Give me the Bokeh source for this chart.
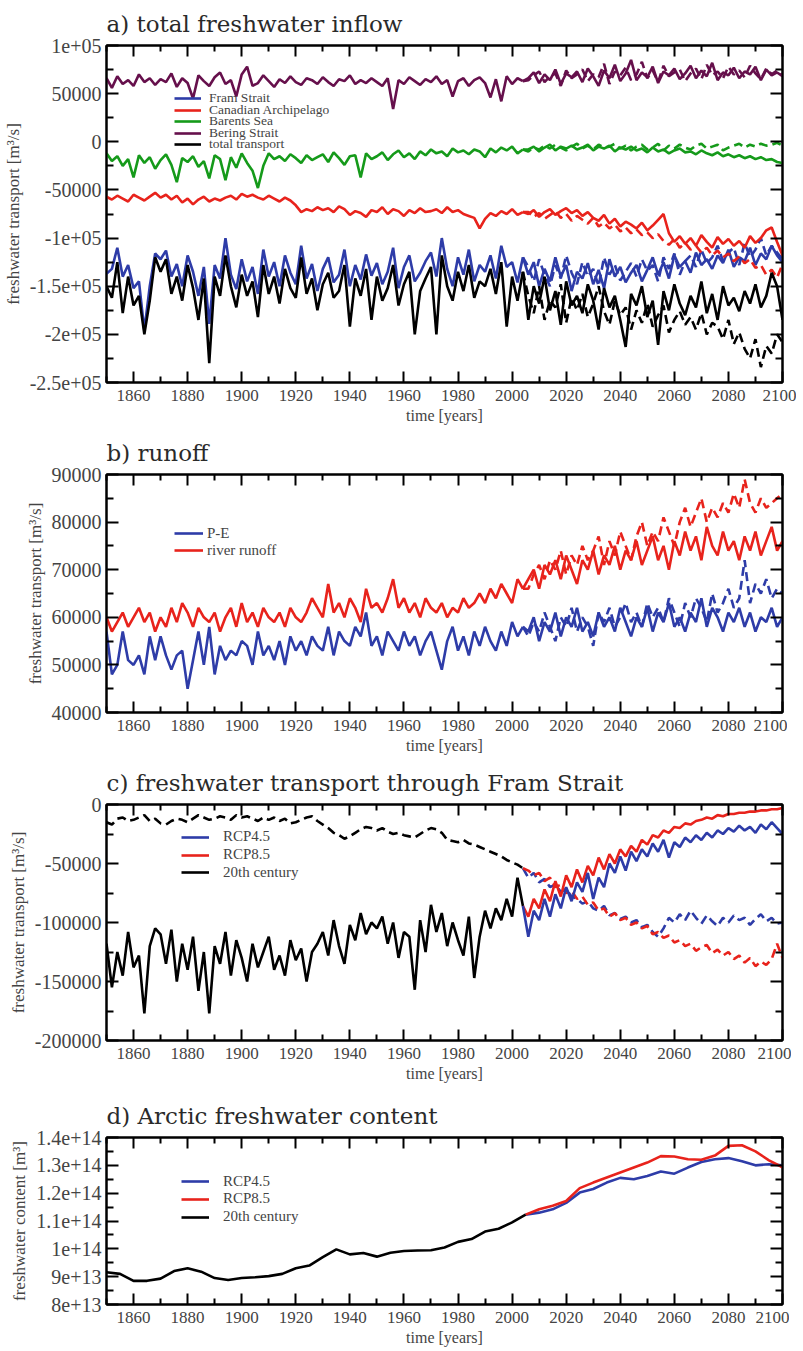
from bokeh.plotting import figure
from bokeh.models import (Range1d, FixedTicker, LinearAxis, Legend, LegendItem,
                          CustomJSTickFormatter)
from bokeh.layouts import column
from bokeh.embed import file_html
from bokeh.resources import INLINE

# ---------------- years ----------------
hist_years = list(range(1850, 2005, 2))   # 1850..2004
scen_years = list(range(2006, 2101, 2))   # 2006..2100
d_hist_years = list(range(1850, 2006, 5))  # 1850..2005
d_scen_years = list(range(2010, 2101, 5))  # 2010..2100

K = 1000.0      # panels a-c values are in 10^3 m^3/s
E13 = 1e13      # panel d values are in 10^13 m^3

# ---------------- a) total freshwater inflow (10^3 m^3/s) ----------------
bering_hist = [66, 56, 68, 60, 64, 58, 70, 62, 66, 59,
               65, 62, 71, 57, 66, 61, 45, 69, 63, 58,
               67, 72, 60, 64, 47, 70, 78, 58, 61, 69,
               63, 57, 65, 61, 68, 62, 59, 66, 64, 60,
               67, 62, 58, 65, 63, 69, 60, 64, 61, 66,
               62, 58, 66, 34, 64, 60, 67, 63, 59, 65,
               62, 68, 60, 64, 47, 63, 66, 58, 64, 67,
               61, 46, 65, 42, 68, 60, 66, 63]
bering_rcp45 = [66, 72, 61, 70, 64, 75, 60, 71, 67, 73,
                62, 76, 68, 58, 74, 66, 80, 63, 71, 85,
                64, 72, 67, 78, 61, 73, 69, 76, 65, 71,
                79, 66, 74, 68, 82, 64, 72, 69, 77, 66,
                73, 70, 78, 64, 75, 69, 72, 68]
bering_rcp85 = [64, 69, 73, 62, 68, 71, 58, 74, 66, 70,
                75, 63, 70, 67, 81, 60, 73, 69, 77, 64,
                70, 83, 66, 74, 62, 79, 68, 72, 75, 63,
                71, 76, 65, 80, 69, 73, 66, 78, 70, 74,
                67, 79, 71, 65, 76, 70, 74, 69]

barents_hist = [-12, -20, -15, -25, -18, -37, -14, -22, -16, -28,
                -19, -13, -24, -42, -17, -21, -15, -26, -20, -38,
                -14, -18, -40, -16, -27, -12, -22, -30, -48, -25,
                -12, -18, -15, -20, -13, -17, -22, -14, -19, -16,
                -13, -21, -11, -17, -24, -15, -14, -37, -12, -18,
                -15, -11, -19, -13, -9, -16, -12, -18, -10, -14,
                -8, -12, -10, -15, -7, -11, -9, -13, -8, -10,
                -16, -7, -11, -6, -9, -5, -12, -8]
barents_rcp45 = [-8, -5, -10, -6, -3, -9, -5, -7, -4, -8,
                 -6, -3, -9, -5, -7, -4, -10, -6, -8, -5,
                 -9, -7, -11, -6, -10, -8, -12, -9, -7, -11,
                 -10, -13, -9, -12, -14, -11, -15, -13, -16, -14,
                 -17, -15, -18, -16, -19, -18, -21, -22]
barents_rcp85 = [-10, -6, -8, -4, -7, -3, -6, -9, -5, -2,
                 -7, -4, -8, -3, -6, -5, -2, -7, -4, -9,
                 -5, -3, -8, -6, -2, -9, -4, -7, -3, -6,
                 -8, -4, -2, -7, -5, -3, -9, -6, -4, -2,
                 -6, -3, -5, -2, -4, -3, -1, -4]

caa_hist = [-57, -60, -56, -59, -62, -55, -58, -61, -57, -53,
            -58, -55, -60, -56, -63, -59, -65, -60, -57, -62,
            -59, -61, -58, -56, -60, -54, -57, -55, -58, -60,
            -56, -59, -62, -58, -61, -66, -73, -70, -72, -68,
            -71, -69, -73, -67, -70, -76, -72, -74, -78, -71,
            -73, -68, -75, -70, -72, -77, -71, -74, -69, -73,
            -72, -70, -74, -68, -73, -71, -75, -77, -79, -90,
            -80, -74, -77, -72, -75, -70, -76, -73]
caa_rcp45 = [-75, -71, -78, -73, -70, -76, -72, -69, -74, -71,
             -77, -73, -79, -82, -76, -85, -80, -88, -83, -86,
             -90, -84, -92, -87, -81, -75, -95, -104, -98, -106,
             -100, -108, -97, -104, -110, -99, -106, -101, -108, -103,
             -110, -98, -105, -100, -92, -89, -104, -118]
caa_rcp85 = [-73, -78, -74, -80, -76, -72, -79, -75, -82, -77,
             -81, -85, -79, -88, -84, -90, -86, -93, -89, -95,
             -91, -97, -94, -100, -96, -103, -107, -101, -110, -105,
             -112, -108, -115, -110, -118, -113, -120, -116, -124, -119,
             -126, -122, -131, -128, -138, -133, -141, -127]

fram_hist = [-137, -132, -110, -140, -128, -152, -145, -196, -150, -116,
             -122, -113, -140, -127, -150, -118, -135, -160, -130, -189,
             -128, -142, -100, -138, -153, -122, -145, -130, -158, -112,
             -140, -125, -150, -118, -136, -148, -108, -142, -127, -155,
             -132, -120, -146, -138, -112, -150, -128, -143, -117, -139,
             -126, -148, -135, -110, -152, -130, -118, -145, -136, -124,
             -115, -140, -100, -132, -150, -120, -138, -112, -145, -128,
             -135, -118, -142, -108, -130, -125, -146, -120]
fram_rcp45 = [-138, -125, -150, -132, -145, -120, -140, -128, -155, -135,
              -142, -126, -148, -133, -152, -122, -140, -130, -146, -136,
              -128, -145, -133, -120, -138, -125, -142, -118, -130, -124,
              -136, -115, -128, -122, -132, -118, -126, -112, -130, -120,
              -124, -110, -128, -116, -122, -108, -118, -125]
fram_rcp85 = [-130, -145, -122, -138, -150, -128, -142, -118, -136, -148,
              -125, -140, -132, -150, -120, -138, -128, -144, -135, -126,
              -140, -122, -134, -128, -145, -120, -132, -116, -138, -124,
              -118, -130, -112, -126, -120, -108, -124, -115, -110, -128,
              -105, -120, -112, -100, -118, -108, -115, -122]

total_hist = [-150, -162, -125, -178, -140, -170, -160, -200, -165, -120,
              -135, -122, -158, -140, -165, -128, -152, -185, -142, -230,
              -140, -160, -118, -150, -172, -138, -160, -145, -182, -128,
              -158, -140, -168, -132, -152, -162, -120, -158, -142, -175,
              -148, -136, -162, -155, -128, -192, -142, -160, -132, -185,
              -140, -165, -152, -128, -170, -148, -135, -200, -155, -142,
              -130, -200, -118, -150, -165, -135, -155, -128, -162, -145,
              -150, -132, -158, -125, -192, -140, -165, -135]
total_rcp45 = [-185, -150, -168, -140, -175, -155, -190, -145, -170, -160,
               -178, -148, -165, -195, -152, -172, -160, -185, -213, -158,
               -170, -150, -182, -165, -211, -155, -175, -148, -168, -180,
               -160, -172, -145, -178, -158, -185, -150, -170, -162, -176,
               -155, -168, -148, -172, -160, -136, -150, -185]
total_rcp85 = [-160, -178, -150, -185, -165, -172, -148, -188, -162, -175,
               -158, -182, -168, -150, -176, -190, -165, -180, -172, -195,
               -175, -188, -168, -192, -180, -170, -198, -185, -176, -190,
               -182, -195, -178, -200, -188, -192, -205, -185, -210, -198,
               -215, -225, -205, -234, -212, -220, -200, -208]

# ---------------- b) runoff (10^3 m^3/s) ----------------
pe_hist = [57, 48, 50, 57, 51, 50, 52, 48, 56, 51,
           56, 52, 49, 52, 53, 45, 51, 57, 50, 58,
           48, 54, 51, 53, 52, 55, 54, 50, 57, 52,
           54, 51, 55, 50, 56, 53, 55, 52, 56, 54,
           53, 58, 52, 57, 55, 54, 58, 56, 61, 54,
           56, 52, 57, 55, 53, 57, 54, 56, 52, 55,
           57, 53, 49, 55, 58, 53, 56, 52, 57, 54,
           58, 55, 53, 57, 54, 59, 56, 58]
pe_rcp45 = [57, 60, 55, 59, 57, 61, 56, 60, 58, 62,
            57, 59, 56, 61, 58, 60, 57, 62, 59, 56,
            60, 58, 62, 57, 61, 59, 63, 58, 60, 57,
            61, 59, 64, 58, 62, 60, 57, 61, 59, 62,
            58, 61, 57, 60, 59, 62, 58, 60]
pe_rcp85 = [56, 59, 57, 61, 58, 55, 60, 58, 62, 57,
            60, 58, 54, 61, 59, 62, 58, 60, 63, 59,
            61, 58, 63, 60, 62, 59, 64, 61, 58, 63,
            60, 64, 62, 59, 65, 61, 63, 66, 62, 64,
            72, 63, 67, 65, 68, 64, 66, 65]

runoff_hist = [60, 57, 59, 61, 58, 60, 62, 59, 61, 57,
               60, 58, 62, 59, 63, 61, 58, 62, 60, 59,
               61, 57, 60, 62, 58, 63, 59, 61, 58, 62,
               60, 59, 61, 58, 62, 60, 59, 61, 64, 62,
               60, 67, 61, 63, 60, 64, 62, 59, 66, 62,
               63, 61, 64, 68, 62, 64, 61, 63, 60, 64,
               62, 61, 63, 60, 62, 61, 64, 62, 63, 65,
               63, 66, 64, 67, 65, 63, 68, 66]
runoff_rcp45 = [68, 70, 66, 71, 69, 72, 68, 73, 70, 67,
                72, 70, 74, 69, 73, 71, 75, 70, 74, 72,
                76, 71, 74, 77, 72, 75, 70, 76, 73, 78,
                74, 77, 72, 79, 75, 73, 78, 74, 76, 72,
                77, 74, 78, 73, 76, 79, 74, 76]
runoff_rcp85 = [66, 69, 71, 68, 72, 70, 74, 69, 73, 71,
                75, 72, 74, 77, 71, 76, 73, 78, 75, 72,
                77, 80, 75, 78, 76, 81, 78, 75, 80, 83,
                79, 82, 85, 80, 83, 81, 84, 82, 86, 83,
                89, 84, 82, 85, 83, 84, 85, 86]

# ---------------- c) Fram Strait (10^3 m^3/s) ----------------
fram_ice_hist = [-118, -155, -125, -145, -108, -138, -128, -177, -120, -105,
                 -110, -135, -106, -150, -118, -140, -112, -158, -125, -177,
                 -120, -135, -108, -145, -115, -130, -150, -118, -138, -125,
                 -112, -140, -128, -145, -115, -132, -122, -150, -125, -118,
                 -108, -128, -98, -120, -135, -102, -115, -92, -110, -100,
                 -105, -95, -118, -100, -130, -108, -112, -157, -98, -125,
                 -85, -108, -92, -120, -100, -115, -128, -95, -147, -112,
                 -90, -105, -88, -98, -80, -95, -62, -86]
fram_liq_hist = [-15, -17, -12, -11, -14, -13, -11, -9, -14, -12,
                 -16, -17, -14, -12, -13, -15, -12, -9, -11, -13,
                 -12, -10, -11, -13, -9, -11, -10, -12, -14, -11,
                 -13, -11, -14, -12, -16, -15, -13, -11, -10, -14,
                 -17, -20, -24, -26, -29, -27, -24, -21, -19, -20,
                 -22, -20, -23, -25, -24, -26, -27, -28, -25, -22,
                 -20, -21, -24, -30, -31, -32, -30, -33, -34, -36,
                 -38, -40, -42, -44, -47, -49, -51, -54]
fram_ice_rcp45 = [-112, -90, -98, -80, -95, -76, -88, -70, -82, -66,
                  -74, -58, -80, -62, -70, -50, -58, -44, -56, -40,
                  -48, -38, -44, -33, -40, -30, -45, -32, -36, -28,
                  -32, -26, -30, -24, -28, -22, -25, -20, -23, -18,
                  -22, -19, -24, -17, -21, -15, -20, -25]
fram_ice_rcp85 = [-95, -80, -88, -72, -82, -65, -78, -60, -70, -55,
                  -66, -52, -60, -45, -55, -42, -50, -38, -44, -35,
                  -40, -30, -34, -26, -28, -22, -24, -19, -20, -16,
                  -17, -14, -13, -11, -12, -9, -10, -8, -8, -7,
                  -7, -6, -6, -5, -5, -4, -4, -3]
fram_liq_rcp45 = [-62, -58, -66, -63, -70, -68, -74, -72, -78, -80,
                  -84, -82, -88, -90, -86, -94, -92, -97, -95, -100,
                  -98, -104, -102, -108, -112, -105, -96, -100, -93, -98,
                  -90, -96, -101, -94, -99, -103, -96, -100, -94, -98,
                  -96, -102, -97, -93, -99, -96, -101, -100]
fram_liq_rcp85 = [-56, -60, -58, -65, -62, -70, -68, -75, -73, -80,
                  -78, -85, -83, -90, -88, -95, -92, -98, -96, -102,
                  -100, -105, -103, -110, -108, -113, -111, -117, -115, -120,
                  -118, -124, -121, -119, -126, -123, -128, -125, -131, -128,
                  -134, -130, -137, -133, -136, -131, -118, -130]

# ---------------- d) Arctic freshwater content (10^13 m^3) ----------------
fwc_hist = [9.16, 9.10, 8.85, 8.85, 8.93, 9.20, 9.30, 9.18, 8.95, 8.88,
            8.95, 8.98, 9.02, 9.10, 9.30, 9.40, 9.70, 9.98, 9.80, 9.85,
            9.72, 9.86, 9.92, 9.94, 9.95, 10.05, 10.25, 10.35, 10.62, 10.72,
            10.95, 11.23]
fwc_rcp45 = [11.30, 11.42, 11.65, 12.02, 12.15, 12.38, 12.55, 12.50, 12.62, 12.78,
             12.70, 12.92, 13.12, 13.22, 13.26, 13.15, 13.00, 13.04, 13.00]
fwc_rcp85 = [11.42, 11.55, 11.72, 12.18, 12.38, 12.56, 12.74, 12.92, 13.10, 13.33,
             13.32, 13.22, 13.20, 13.35, 13.70, 13.72, 13.50, 13.18, 12.93]

# ---------------- tick labels ----------------
x_major = list(range(1860, 2101, 20))
x_minor = list(range(1850, 2101, 20))

a_ticks = [100000, 50000, 0, -50000, -100000, -150000, -200000, -250000]
a_labels = ["1e+05", "50000", "0", "-50000", "-1e+05", "-1.5e+05", "-2e+05", "-2.5e+05"]
a_minor = [75000, 25000, -25000, -75000, -125000, -175000, -225000]

b_ticks = [40000, 50000, 60000, 70000, 80000, 90000]
b_labels = ["40000", "50000", "60000", "70000", "80000", "90000"]
b_minor = [45000, 55000, 65000, 75000, 85000]

c_ticks = [0, -50000, -100000, -150000, -200000]
c_labels = ["0", "-50000", "-100000", "-150000", "-200000"]
c_minor = [-25000, -75000, -125000, -175000]

d_ticks = [80000000000000, 90000000000000, 100000000000000, 110000000000000,
           120000000000000, 130000000000000, 140000000000000]
d_labels = ["8e+13", "9e+13", "1e+14", "1.1e+14", "1.2e+14", "1.3e+14", "1.4e+14"]
d_minor = [85000000000000, 95000000000000, 105000000000000, 115000000000000,
           125000000000000, 135000000000000]

# ---------------- style ----------------
BLUE = "#2e3ca8"
RED = "#e8231c"
GREEN = "#159a1a"
PURPLE = "#66104c"
BLACK = "#000000"
SERIF = "Liberation Serif"
TITLE_FONT = "DejaVu Serif"
LW = 2.6
DASH = "9 5"
EMPTY = CustomJSTickFormatter(code="return ''")


def scale(vals, f):
    return [v * f for v in vals]


def make_panel(title, ylabel, yr, yticks, ylabels, yminor, frame_h, top_b, bottom_b):
    p = figure(frame_width=676, frame_height=frame_h,
               x_range=Range1d(1850, 2100), y_range=Range1d(*yr),
               x_axis_type=None, y_axis_type=None,
               min_border_left=97, min_border_right=14,
               min_border_top=top_b, min_border_bottom=bottom_b,
               output_backend="svg", toolbar_location=None)
    p.grid.visible = False
    p.outline_line_color = "black"
    p.outline_line_width = 2
    p.background_fill_color = "white"
    p.border_fill_color = "white"

    p.title.text = title
    p.title.text_font = TITLE_FONT
    p.title.text_font_size = "23px"
    p.title.text_font_style = "normal"
    p.title.text_color = "#2a2a2a"
    p.title.align = "left"
    p.title.vertical_align = "middle"
    p.title.text_line_height = 0.75
    p.title.standoff = 16

    xt = FixedTicker(ticks=x_major, minor_ticks=x_minor)
    yt = FixedTicker(ticks=yticks, minor_ticks=yminor)
    common = dict(axis_line_width=2, major_tick_line_width=2, minor_tick_line_width=2,
                  major_tick_out=0, minor_tick_out=0)

    xb = LinearAxis(ticker=xt, axis_label="time [years]", major_tick_in=11, minor_tick_in=6,
                    major_label_text_font=SERIF, major_label_text_font_size="17px",
                    major_label_standoff=7,
                    axis_label_text_font=SERIF, axis_label_text_font_size="16px",
                    axis_label_text_font_style="normal", axis_label_standoff=3, **common)
    p.add_layout(xb, "below")
    overrides = {t: l for t, l in zip(yticks, ylabels)}
    yl = LinearAxis(ticker=yt, axis_label=ylabel, major_tick_in=12, minor_tick_in=7,
                    major_label_overrides=overrides,
                    major_label_text_font=SERIF, major_label_text_font_size="20px",
                    major_label_standoff=5,
                    axis_label_text_font=SERIF, axis_label_text_font_size="17px",
                    axis_label_text_font_style="normal", axis_label_standoff=4, **common)
    p.add_layout(yl, "left")
    xa = LinearAxis(ticker=xt, formatter=EMPTY, major_tick_in=11, minor_tick_in=6,
                    major_label_standoff=0, major_label_text_font_size="1px", **common)
    p.add_layout(xa, "above")
    yr_ax = LinearAxis(ticker=yt, formatter=EMPTY, major_tick_in=12, minor_tick_in=7,
                       major_label_standoff=0, major_label_text_font_size="1px", **common)
    p.add_layout(yr_ax, "right")
    return p


def add_legend(p, items, x, first, pitch, font_size, standoff, frame_h, glyph_w=27):
    item_h = 20
    for i, (label, r) in enumerate(items):
        center = first + i * pitch
        vy = frame_h - (center + item_h / 2)
        leg = Legend(items=[LegendItem(label=label, renderers=[r])],
                     location=(x, vy), label_text_font=SERIF, label_text_font_size=font_size,
                     glyph_width=glyph_w, glyph_height=item_h, label_height=item_h,
                     spacing=0, padding=0, margin=0, label_standoff=standoff,
                     border_line_alpha=0, background_fill_alpha=0)
        p.add_layout(leg)


def ext_x():
    return [hist_years[-1]] + scen_years


def ext(hist, scen, f):
    return scale([hist[-1]] + scen, f)


# ---------------- panel a ----------------
pa = make_panel("a) total freshwater inflow", "freshwater transport [m³/s]",
                (-250000, 100000), a_ticks, a_labels, a_minor, 337, 45, 48)
rend_a = []
for hist, r45, r85, col in [(fram_hist, fram_rcp45, fram_rcp85, BLUE),
                            (caa_hist, caa_rcp45, caa_rcp85, RED),
                            (barents_hist, barents_rcp45, barents_rcp85, GREEN),
                            (bering_hist, bering_rcp45, bering_rcp85, PURPLE),
                            (total_hist, total_rcp45, total_rcp85, BLACK)]:
    pa.line(ext_x(), ext(hist, r85, K), line_color=col, line_width=LW, line_dash=DASH)
    pa.line(ext_x(), ext(hist, r45, K), line_color=col, line_width=LW)
    r = pa.line(hist_years, scale(hist, K), line_color=col, line_width=LW)
    rend_a.append(r)
add_legend(pa, list(zip(["Fram Strait", "Canadian Archipelago", "Barents Sea",
                         "Bering Strait", "total transport"], rend_a)),
           68, 53, 11.6, "13.5px", 8, 337)

# ---------------- panel b ----------------
pb = make_panel("b) runoff", "freshwater transport [m³/s]",
                (40000, 90000), b_ticks, b_labels, b_minor, 238, 44, 48)
rend_b = []
for hist, r45, r85, col in [(pe_hist, pe_rcp45, pe_rcp85, BLUE),
                            (runoff_hist, runoff_rcp45, runoff_rcp85, RED)]:
    pb.line(ext_x(), ext(hist, r85, K), line_color=col, line_width=LW, line_dash=DASH)
    pb.line(ext_x(), ext(hist, r45, K), line_color=col, line_width=LW)
    r = pb.line(hist_years, scale(hist, K), line_color=col, line_width=LW)
    rend_b.append(r)
add_legend(pb, list(zip(["P-E", "river runoff"], rend_b)), 68, 59, 17.4, "15px", 4, 238, 29)

# ---------------- panel c ----------------
pc = make_panel("c) freshwater transport through Fram Strait", "freshwater transport [m³/s]",
                (-200000, 0), c_ticks, c_labels, c_minor, 236, 44, 50)
pc.line(hist_years, scale(fram_liq_hist, K), line_color=BLACK, line_width=LW, line_dash=DASH)
rc_black = pc.line(hist_years, scale(fram_ice_hist, K), line_color=BLACK, line_width=LW)
pc.line(ext_x(), ext(fram_liq_hist, fram_liq_rcp45, K), line_color=BLUE, line_width=LW, line_dash=DASH)
pc.line(ext_x(), ext(fram_liq_hist, fram_liq_rcp85, K), line_color=RED, line_width=LW, line_dash=DASH)
rc_red = pc.line(ext_x(), ext(fram_ice_hist, fram_ice_rcp85, K), line_color=RED, line_width=LW)
rc_blue = pc.line(ext_x(), ext(fram_ice_hist, fram_ice_rcp45, K), line_color=BLUE, line_width=LW)
add_legend(pc, [("RCP4.5", rc_blue), ("RCP8.5", rc_red), ("20th century", rc_black)],
           75, 32.7, 17.8, "15px", 14, 236, 28)

# ---------------- panel d ----------------
pd_ = make_panel("d) Arctic freshwater content", "freshwater content [m³]",
                 (80000000000000, 140000000000000), d_ticks, d_labels, d_minor, 167, 47, 45)
dx = [d_hist_years[-1]] + d_scen_years
rd_blue = pd_.line(dx, scale([fwc_hist[-1]] + fwc_rcp45, E13), line_color=BLUE, line_width=LW)
rd_red = pd_.line(dx, scale([fwc_hist[-1]] + fwc_rcp85, E13), line_color=RED, line_width=LW)
rd_black = pd_.line(d_hist_years, scale(fwc_hist, E13), line_color=BLACK, line_width=LW)
add_legend(pd_, [("RCP4.5", rd_blue), ("RCP8.5", rd_red), ("20th century", rd_black)],
           75, 44, 17.8, "15px", 14, 167, 28)

layout = column(pa, pb, pc, pd_, spacing=0)
open("out.html", "w").write(file_html(layout, INLINE))
